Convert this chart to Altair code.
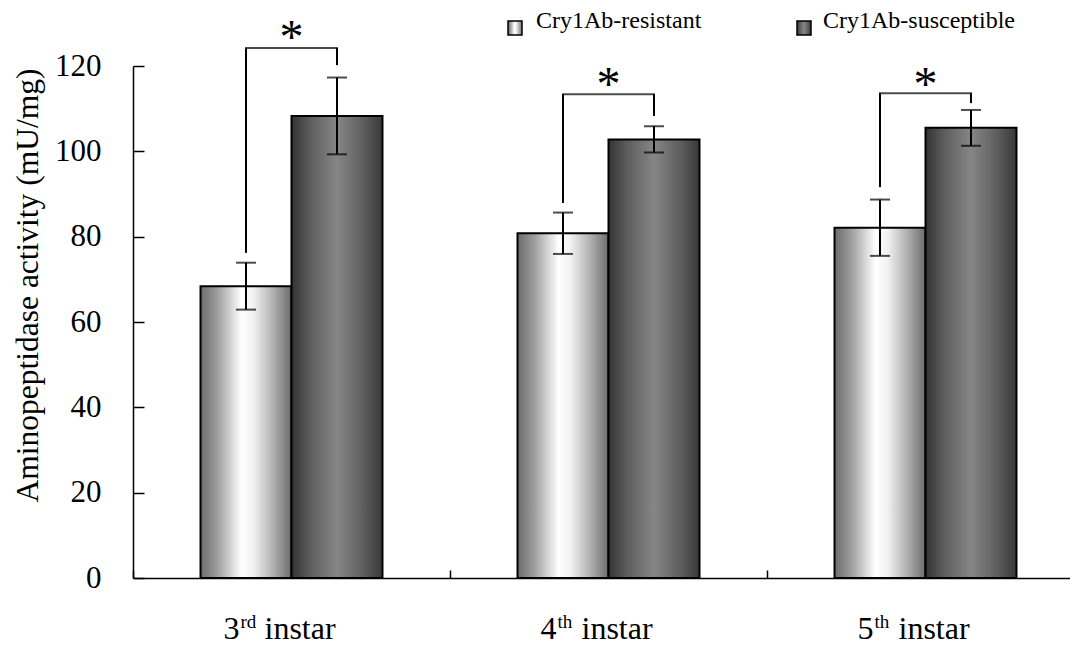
import altair as alt
import pandas as pd

# ---------------- data ----------------
stages = ["3rd instar", "4th instar", "5th instar"]
stage_num = ["3", "4", "5"]
stage_sup = ["rd", "th", "th"]
series = ["Cry1Ab-resistant", "Cry1Ab-susceptible"]

resistant_mean = [68.4, 80.8, 82.1]
resistant_err = [5.5, 4.85, 6.6]
susceptible_mean = [108.3, 102.8, 105.5]
susceptible_err = [9.0, 3.1, 4.2]

sig_top = [124.2, 113.4, 113.6]
sig_left_bottom = [76.2, 87.9, 91.6]
sig_right_bottom = [120.2, 108.3, 111.3]
star_y = [128.3, 117.2, 117.2]

y_ticks = [0, 20, 40, 60, 80, 100, 120]

# ---------------- tables ----------------
rows = []
for i, st in enumerate(stages):
    rows.append(dict(stage=st, series=series[0], mean=resistant_mean[i],
                     lo=resistant_mean[i] - resistant_err[i], hi=resistant_mean[i] + resistant_err[i]))
    rows.append(dict(stage=st, series=series[1], mean=susceptible_mean[i],
                     lo=susceptible_mean[i] - susceptible_err[i], hi=susceptible_mean[i] + susceptible_err[i]))
df = pd.DataFrame(rows)

sig_rows = []
for i, st in enumerate(stages):
    sig_rows.append(dict(stage=st, series=series[0], bottom=sig_left_bottom[i], top=sig_top[i]))
    sig_rows.append(dict(stage=st, series=series[1], bottom=sig_right_bottom[i], top=sig_top[i]))
df_sig = pd.DataFrame(sig_rows)
df_star = pd.DataFrame(dict(stage=stages, top=sig_top, star=star_y))
df_lab = pd.DataFrame(dict(stage=stages, num=stage_num, sup=stage_sup))

FONT = "'Liberation Serif', 'Times New Roman', Times, serif"

grad_res = alt.Gradient(gradient="linear", x1=0, x2=1, y1=0, y2=0, stops=[
    alt.GradientStop(color="#6c6c6c", offset=0),
    alt.GradientStop(color="#9c9c9c", offset=0.18),
    alt.GradientStop(color="#ffffff", offset=0.45),
    alt.GradientStop(color="#f2f2f2", offset=0.58),
    alt.GradientStop(color="#b0b0b0", offset=0.8),
    alt.GradientStop(color="#6c6c6c", offset=1),
])
grad_sus = alt.Gradient(gradient="linear", x1=0, x2=1, y1=0, y2=0, stops=[
    alt.GradientStop(color="#333333", offset=0),
    alt.GradientStop(color="#5c5c5c", offset=0.2),
    alt.GradientStop(color="#868686", offset=0.5),
    alt.GradientStop(color="#5c5c5c", offset=0.8),
    alt.GradientStop(color="#383838", offset=1),
])

W, H = 937, 512

x_scale = alt.Scale(domain=stages, range=[0, 951], paddingInner=0, paddingOuter=0)
x_axis = alt.Axis(title=None, labels=False, ticks=False, domain=True, domainColor="black",
                  domainWidth=1.5, grid=True, gridColor="black", gridWidth=1.5,
                  gridDash=[0, H - 8, 8, 2000], tickBand="extent")
xo_scale = alt.Scale(domain=series, paddingInner=0, paddingOuter=0.742)
y_scale = alt.Scale(domain=[0, 120], nice=False, zero=True)
y_axis = alt.Axis(values=y_ticks, title="Aminopeptidase activity (mU/mg)",
                  titleFont=FONT, titleFontSize=31.5, titleFontWeight="normal", titleColor="black",
                  titleX=-105, titleY=219, titleAngle=-90, titleAlign="center", titleBaseline="middle",
                  labelFont=FONT, labelFontSize=31, labelColor="black", labelPadding=32,
                  ticks=False, tickSize=0, domainColor="black", domainWidth=1.5,
                  grid=True, gridColor="black", gridWidth=1.5, gridDash=[11, 2000])

X = alt.X("stage:N", sort=stages, scale=x_scale, axis=x_axis)
XO = alt.XOffset("series:N", sort=series, scale=xo_scale)

base = alt.Chart(df)

bars = base.mark_bar(stroke="black", strokeWidth=2).encode(
    x=X, xOffset=XO,
    y=alt.Y("mean:Q", scale=y_scale, axis=y_axis),
    fill=alt.condition(alt.datum.series == series[0], alt.value(grad_res), alt.value(grad_sus)),
)

err = base.mark_rule(color="black", strokeWidth=2).encode(
    x=X, xOffset=XO,
    y=alt.Y("lo:Q", scale=y_scale, axis=y_axis), y2="hi:Q",
)
cap_hi = base.mark_tick(color="black", size=20, thickness=2).encode(
    x=X, xOffset=XO, y=alt.Y("hi:Q", scale=y_scale, axis=y_axis))
cap_lo = base.mark_tick(color="black", size=20, thickness=2).encode(
    x=X, xOffset=XO, y=alt.Y("lo:Q", scale=y_scale, axis=y_axis))

sig_v = alt.Chart(df_sig).mark_rule(color="black", strokeWidth=2).encode(
    x=X, xOffset=XO,
    y=alt.Y("bottom:Q", scale=y_scale, axis=y_axis), y2="top:Q",
)
sig_h = alt.Chart(df_star).mark_tick(color="black", size=93, thickness=2).encode(
    x=X, y=alt.Y("top:Q", scale=y_scale, axis=y_axis))
stars = alt.Chart(df_star).mark_text(text="*", font=FONT, fontSize=48, color="black",
                                     baseline="alphabetic", dy=22).encode(
    x=X, y=alt.Y("star:Q", scale=y_scale, axis=y_axis))

lab_num = alt.Chart(df_lab).mark_text(align="left", baseline="alphabetic", font=FONT,
                                      fontSize=32, color="black", dx=-68).encode(
    x=X, y=alt.value(573), text="num:N")
lab_sup = alt.Chart(df_lab).mark_text(align="left", baseline="alphabetic", font=FONT,
                                      fontSize=19, color="black", dx=-51).encode(
    x=X, y=alt.value(562), text="sup:N")
lab_word = alt.Chart(df_lab).mark_text(align="left", baseline="alphabetic", font=FONT,
                                       fontSize=32, color="black", dx=-27, text="instar").encode(
    x=X, y=alt.value(573))

one = alt.Data(values=[{}])
leg_sq1 = alt.Chart(one).mark_rect(stroke="black", strokeWidth=1.5, fill=grad_res).encode(
    x=alt.value(375), x2=alt.value(389), y=alt.value(-45), y2=alt.value(-31))
leg_sq2 = alt.Chart(one).mark_rect(stroke="black", strokeWidth=1.5, fill=grad_sus).encode(
    x=alt.value(664), x2=alt.value(678), y=alt.value(-45), y2=alt.value(-31))
leg_t1 = alt.Chart(one).mark_text(align="left", baseline="alphabetic", font=FONT, fontSize=24,
                                  color="black", text=series[0]).encode(
    x=alt.value(403), y=alt.value(-38))
leg_t2 = alt.Chart(one).mark_text(align="left", baseline="alphabetic", font=FONT, fontSize=24,
                                  color="black", text=series[1]).encode(
    x=alt.value(690), y=alt.value(-38))

chart = alt.layer(
    bars, err, cap_hi, cap_lo, sig_v, sig_h, stars,
    lab_num, lab_sup, lab_word,
    leg_sq1, leg_sq2, leg_t1, leg_t2,
).properties(
    width=W, height=H,
    padding={"left": 125, "top": 58, "right": 0, "bottom": 70},
    autosize=alt.AutoSizeParams(type="none"),
    background="white",
).configure_view(stroke=None)

chart.save("out.html", embed_options={"renderer": "svg", "actions": False})
